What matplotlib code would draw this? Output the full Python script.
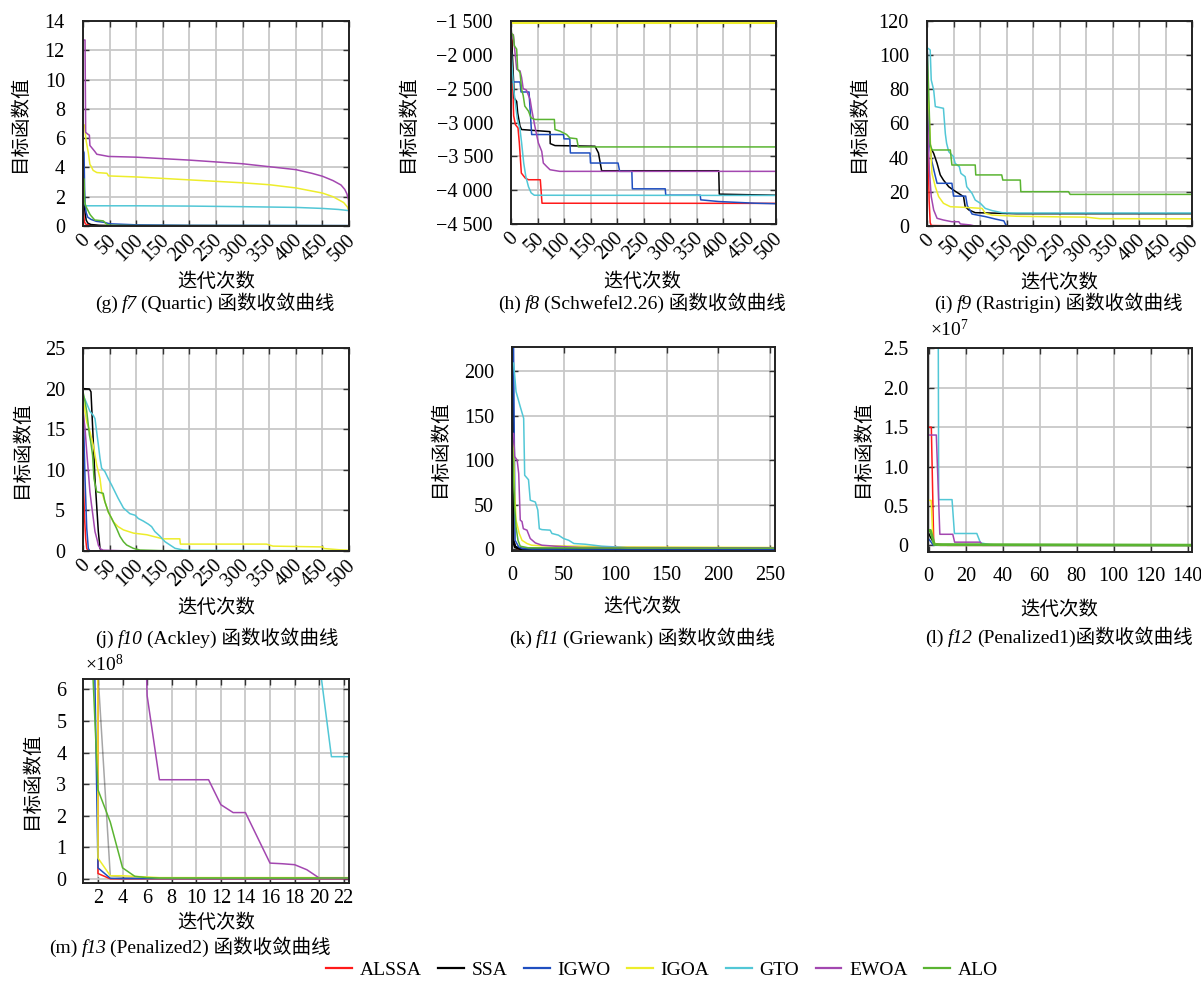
import matplotlib
matplotlib.use('Agg')
import matplotlib.pyplot as plt
import matplotlib.transforms as mtransforms
from matplotlib.ticker import FuncFormatter
from matplotlib.lines import Line2D
from matplotlib.offsetbox import TextArea, HPacker, AnnotationBbox

FAM = ['Liberation Serif', 'Noto Sans CJK SC']
plt.rcParams['font.family'] = FAM
plt.rcParams['mathtext.fontset'] = 'custom'
plt.rcParams['mathtext.it'] = 'Liberation Serif:italic'
plt.rcParams['mathtext.rm'] = 'Liberation Serif'
plt.rcParams['axes.unicode_minus'] = True

# ---------------- series names / colours ----------------
ALGOS = ['ALSSA', 'SSA', 'IGWO', 'IGOA', 'GTO', 'EWOA', 'ALO']
COLORS = ['#FF1A1A', '#000000', '#1F4FC0', '#EDED2B', '#52C7D6', '#A347B0', '#5AB431']

# ---------------- (g) f7 Quartic ----------------
G_ALSSA_X = [0, 1, 2, 3, 6, 15, 30, 500]
G_ALSSA_Y = [1.7, 1.2, 0.5, 0.25, 0.1, 0.05, 0.02, 0.0]
G_SSA_X = [0, 2, 4, 6, 9, 15, 30, 60, 500]
G_SSA_Y = [2.0, 1.6, 0.9, 0.4, 0.2, 0.1, 0.05, 0.02, 0.01]
G_IGWO_X = [0, 2, 3, 4, 6, 9, 15, 25, 40, 50, 100, 200, 500]
G_IGWO_Y = [5.2, 5.0, 2.5, 1.5, 0.9, 0.6, 0.45, 0.32, 0.25, 0.15, 0.08, 0.05, 0.03]
G_IGOA_X = [0, 3, 5, 6, 10, 13, 15, 19, 26, 45, 48, 100, 200, 300, 350, 400, 450, 470, 490, 497, 500]
G_IGOA_Y = [6.9, 6.9, 6.1, 5.8, 5.0, 4.2, 4.1, 3.8, 3.65, 3.6, 3.42, 3.35, 3.15, 2.95, 2.82, 2.6, 2.25, 2.0, 1.6, 1.3, 1.0]
G_GTO_X = [0, 3, 5, 100, 200, 300, 400, 450, 480, 500]
G_GTO_Y = [2.2, 1.6, 1.38, 1.38, 1.36, 1.32, 1.27, 1.2, 1.13, 1.05]
G_EWOA_X = [0, 3.8, 5, 8, 12, 13, 22, 26, 48, 100, 200, 300, 350, 400, 430, 450, 470, 485, 492, 496, 499, 500]
G_EWOA_Y = [12.7, 12.7, 6.4, 6.3, 6.2, 5.5, 5.1, 4.9, 4.75, 4.7, 4.5, 4.25, 4.05, 3.85, 3.6, 3.4, 3.1, 2.8, 2.5, 2.2, 1.8, 0.0]
G_ALO_X = [0, 2, 3, 5, 13, 15, 22, 38, 45, 50, 100, 500]
G_ALO_Y = [3.3, 3.2, 1.7, 1.37, 0.8, 0.7, 0.41, 0.35, 0.11, 0.05, 0.03, 0.02]

# ---------------- (h) f8 Schwefel2.26 ----------------
H_ALSSA_X = [0, 1.9, 3.1, 5, 8.2, 13.2, 15.7, 19.5, 27, 33, 55.3, 58.5, 500]
H_ALSSA_Y = [-1690, -1700, -2400, -2900, -3030, -3080, -3300, -3747, -3822, -3846, -3846, -4193, -4195]
H_SSA_X = [0, 2.5, 6.3, 10.7, 12.6, 17, 20, 73.6, 74, 83, 158.5, 165, 171, 392, 393, 500]
H_SSA_Y = [-1520, -1990, -2640, -2690, -2860, -3054, -3104, -3135, -3312, -3341, -3351, -3450, -3713, -3713, -4059, -4075]
H_IGWO_X = [0, 17, 19, 34, 39, 99, 100, 111, 112, 149, 150, 202, 205, 228, 229, 291, 292, 357, 358, 392, 461, 500]
H_IGWO_Y = [-2401, -2401, -2549, -2549, -3178, -3178, -3242, -3242, -3450, -3450, -3599, -3599, -3722, -3722, -3980, -3980, -4074, -4074, -4143, -4168, -4193, -4200]
H_IGOA_X = [0, 500]
H_IGOA_Y = [-1512, -1512]
H_GTO_X = [0, 2, 5, 8, 12, 17, 20, 24, 28, 33, 38, 44, 500]
H_GTO_Y = [-1850, -2160, -2500, -2700, -2950, -3100, -3300, -3600, -3800, -3950, -4040, -4075, -4078]
H_EWOA_X = [0, 4.4, 7.5, 10.7, 17, 20, 23, 29, 36, 39, 45, 51.6, 58, 61, 67, 73.6, 92, 500]
H_EWOA_Y = [-1800, -1700, -1965, -2213, -2237, -2336, -2500, -2520, -2658, -2807, -3054, -3302, -3426, -3599, -3648, -3698, -3722, -3722]
H_ALO_X = [0, 4.4, 6.3, 10.7, 12.6, 17, 20, 23, 26, 33, 37.7, 45, 81.8, 83, 92.5, 105, 111, 124, 127, 500]
H_ALO_Y = [-1668, -1718, -1866, -1916, -2213, -2262, -2510, -2600, -2757, -2832, -2930, -2955, -2955, -3104, -3128, -3178, -3228, -3240, -3361, -3361]

# ---------------- (i) f9 Rastrigin ----------------
I_ALSSA_X = [0, 2, 4, 6, 8, 50, 500]
I_ALSSA_Y = [68, 45, 15, 2, 0.3, 0.1, 0]
I_SSA_X = [0, 3, 6, 12.6, 19, 25, 31, 41, 50, 60, 69, 72, 79, 91, 169, 500]
I_SSA_Y = [75, 55, 46.4, 42.5, 36.7, 29.9, 26.9, 23, 21, 19, 17.2, 11.3, 9.4, 7.8, 7.2, 7.2]
I_IGWO_X = [0, 1, 2, 4, 6, 9, 15, 19, 47, 50, 73, 76, 85, 110, 130, 145, 148, 151, 500]
I_IGWO_Y = [107, 100, 75, 55, 45, 38, 30, 25, 25, 17.5, 17.5, 12, 7, 5.5, 4, 3, 1, 0, 0]
I_IGOA_X = [0, 3, 8, 9.4, 15.7, 22, 31, 44, 72, 104, 110, 123, 169, 263, 300, 326, 500]
I_IGOA_Y = [80, 72, 38.6, 30.8, 23, 17.2, 13.3, 11.3, 10.9, 10.3, 7.4, 6.4, 5.7, 5.3, 5.2, 4.3, 4.2]
I_GTO_X = [0, 2, 6, 8, 12.6, 15.7, 31, 34.6, 37, 41, 50, 53, 61, 64, 72, 75, 85, 91, 100.6, 110, 123, 141.5, 160, 500]
I_GTO_Y = [104, 104, 103, 85.5, 79.6, 69.9, 68.9, 54, 48.4, 43.5, 40.6, 36.7, 34.7, 30.8, 28.9, 23, 19.1, 15.2, 13.3, 10.3, 9, 7.8, 7.6, 7.6]
I_EWOA_X = [0, 2, 4.4, 8, 12.6, 19, 31, 47, 60, 63, 82, 90, 500]
I_EWOA_Y = [73.8, 56, 32.8, 17.2, 9.4, 4.5, 3.5, 2.5, 2.5, 1.2, 0.6, 0, 0]
I_ALO_X = [0, 3, 6, 9.4, 44, 47, 91, 92, 141, 143, 176, 177, 267, 270, 500]
I_ALO_Y = [106, 81, 48, 44.5, 44.5, 35.7, 35.7, 29.9, 29.9, 26.9, 26.9, 20.1, 20.1, 18.5, 18.5]

# ---------------- (j) f10 Ackley ----------------
J_ALSSA_X = [0, 1, 3, 5, 7, 10, 500]
J_ALSSA_Y = [18, 8, 4, 1.5, 0.3, 0, 0]
J_SSA_X = [0, 12, 15, 18.2, 22.5, 28.8, 32, 35, 500]
J_SSA_Y = [20, 19.95, 19.6, 15.1, 8.9, 2.4, 0.3, 0, 0]
J_IGWO_X = [0, 3.8, 7, 10, 13, 500]
J_IGWO_Y = [18.8, 8.9, 2.8, 0.3, 0, 0]
J_IGOA_X = [0, 3.8, 7, 13, 19.4, 22.5, 25.7, 32, 35, 41, 47.6, 57, 66, 76, 95, 120, 150, 182, 183, 345, 357, 451, 453, 482, 500]
J_IGOA_Y = [18.8, 17.2, 15.9, 14.7, 13, 11.8, 10.6, 8.9, 7.3, 6.1, 4.8, 3.6, 3.0, 2.6, 2.2, 2.0, 1.5, 1.5, 0.85, 0.85, 0.6, 0.5, 0.3, 0.15, 0.1]
J_GTO_X = [0, 5.6, 13, 19.4, 22.5, 29, 32, 35, 41, 47.6, 54, 60, 66, 72.7, 76, 88, 98, 104, 113, 123, 129, 135, 145, 154, 163.5, 173, 188.6, 200, 500]
J_GTO_Y = [19.2, 18.4, 17.2, 16.7, 16.3, 13, 11.4, 10.2, 9.8, 8.9, 8.1, 7.3, 6.5, 5.7, 5.3, 4.6, 4.4, 4.0, 3.7, 3.3, 3.0, 2.4, 1.8, 1.15, 0.74, 0.33, 0.12, 0.08, 0.03]
J_EWOA_X = [0, 3.8, 7, 10, 13, 16, 19.4, 22.5, 25.7, 29, 33, 38, 70, 100, 500]
J_EWOA_Y = [17.2, 15.1, 12.2, 9.8, 7.3, 5.7, 4.0, 2.4, 1.6, 0.7, 0.25, 0.1, 0.04, 0, 0]
J_ALO_X = [0, 3.8, 7, 10, 12, 14.4, 18, 20.7, 25.7, 38, 41, 47.6, 54, 57, 63, 69.5, 76, 82, 94.6, 107, 150, 500]
J_ALO_Y = [19.6, 18.4, 17.2, 15.5, 14.3, 13.5, 11.8, 8.9, 7.3, 7.1, 6.1, 4.8, 4.0, 3.6, 2.8, 1.8, 1.15, 0.74, 0.33, 0.12, 0.04, 0.02]

# ---------------- (k) f11 Griewank ----------------
K_ALSSA_X = [0, 0.6, 1.6, 3.2, 6, 20, 255]
K_ALSSA_Y = [66.5, 66.5, 10, 2.6, 0.3, 0.1, 0.05]
K_SSA_X = [0, 1, 3, 8, 255]
K_SSA_Y = [400, 10, 2.6, 0.3, 0.1]
K_IGWO_X = [0, 1, 3, 6.5, 10, 20, 255]
K_IGWO_Y = [500, 300, 10, 2.6, 0.75, 0.2, 0.1]
K_IGOA_X = [0, 1.6, 2.3, 3.9, 7, 9.7, 14.5, 19, 29, 68, 97, 255]
K_IGOA_Y = [123, 110, 70, 32.7, 17.7, 10, 6.4, 4.5, 3.8, 3.4, 2.6, 1.9]
K_GTO_X = [0, 1.6, 3.9, 8, 11.3, 12.3, 16, 17.7, 22.6, 25, 26.5, 29, 37, 38.7, 45, 50, 55, 60, 71, 87, 100, 113, 255]
K_GTO_Y = [209, 209, 177, 160, 147, 83, 78, 55, 53, 44, 23, 22, 21.4, 17.7, 15.8, 12, 10, 6.4, 5.6, 3.4, 2.6, 1.5, 1.5]
K_EWOA_X = [0, 1.6, 2.6, 5, 6.5, 8, 9.7, 11, 14.5, 17.7, 22.6, 29, 42, 55, 68, 255]
K_EWOA_Y = [130, 130, 104, 100, 85, 32.7, 31, 23, 21.4, 12, 7.1, 4.5, 3.4, 2.6, 1.9, 1.5]
K_ALO_X = [0, 0.6, 2.6, 3.9, 5.8, 8, 16, 255]
K_ALO_Y = [115, 115, 47.7, 25, 10, 3.4, 1.5, 1.2]

# ---------------- (l) f12 Penalized1 ----------------
L_ALSSA_X = [0, 1.4, 2.7, 10, 142]
L_ALSSA_Y = [1.5e7, 1.5e7, 2e5, 0, 0]
L_SSA_X = [0, 1, 3, 6, 142]
L_SSA_Y = [1.5e6, 1e6, 2e5, 0, 0]
L_IGWO_X = [0, 1, 2.5, 142]
L_IGWO_Y = [8e5, 5e5, 0, 0]
L_IGOA_X = [0, 1.3, 2.3, 5, 142]
L_IGOA_Y = [5.7e6, 5.7e6, 4e5, 0, 0]
L_GTO_X = [0, 4.5, 5.4, 12.6, 13.9, 26, 28, 33, 40, 142]
L_GTO_Y = [8e7, 8e7, 5.8e6, 5.8e6, 1.5e6, 1.5e6, 3e5, 1e5, 0, 0]
L_EWOA_X = [0, 2.3, 4.1, 6, 13, 14, 28, 29, 142]
L_EWOA_Y = [1.4e7, 1.4e7, 1.4e7, 1.4e6, 1.4e6, 4e5, 4e5, 0, 0]
L_ALO_X = [0, 0.9, 2, 3, 142]
L_ALO_Y = [1.9e6, 1.9e6, 1e6, 1e5, 2e4]

# ---------------- (m) f13 Penalized2 ----------------
M_ITER = list(range(1, 24))
M_ALSSA = [5e10, 0.17e8] + [0.002e8] * 21
M_SSA = [5e10, 6.5e8, 0.1e8, 0.05e8] + [0.03e8] * 19
M_IGWO = [24e8, 0.35e8, 0.02e8] + [0.01e8] * 20
M_IGOA = [5e10, 0.66e8, 0.1e8, 0.1e8, 0.08e8, 0.06e8] + [0.04e8] * 17
M_GTO = [50e8, 45e8, 40e8, 36e8, 33e8, 30e8, 27e8, 25e8, 23e8, 21e8, 19e8, 17e8,
         15e8, 13e8, 12e8, 11e8, 10e8, 9e8, 8e8, 6.9e8, 3.87e8, 3.87e8, 3.87e8]
M_EWOA = [60e8, 50e8, 40e8, 30e8, 20e8, 5.8e8, 3.14e8, 3.14e8, 3.14e8, 3.14e8, 3.14e8, 2.35e8,
          2.1e8, 2.1e8, 1.3e8, 0.5e8, 0.48e8, 0.45e8, 0.29e8, 0.03e8, 0.03e8, 0.03e8, 0.03e8]
M_ALO = [11.6e8, 2.82e8, 1.8e8, 0.35e8, 0.08e8, 0.04e8] + [0.03e8] * 17

G_XTICKS = list(range(0, 501, 50))
G_YTICKS = list(range(0, 15, 2))
H_YTICKS = [-4500, -4000, -3500, -3000, -2500, -2000, -1500]
I_YTICKS = list(range(0, 121, 20))
J_YTICKS = list(range(0, 26, 5))
K_XTICKS = list(range(0, 251, 50))
K_YTICKS = list(range(0, 201, 50))
L_XTICKS = list(range(0, 141, 20))
L_YTICKS = [0, 0.5e7, 1.0e7, 1.5e7, 2.0e7, 2.5e7]
M_XTICKS = list(range(2, 23, 2))
M_YTICKS = [0, 1e8, 2e8, 3e8, 4e8, 5e8, 6e8]

W, H = 1201, 990
fig = plt.figure(figsize=(W / 100, H / 100), dpi=100)
FS = 14.5


def fx(x):
    return x / W


def fy(y):
    return 1 - y / H


def add_ax(l, t, r, b):
    return fig.add_axes([fx(l), fy(b), (r - l) / W, (b - t) / H])


def fmt_int(v, p):
    return '%d' % round(v)


def fmt_thousand(v, p):
    s = '%d' % round(abs(v))
    if len(s) > 3:
        s = s[:-3] + ' ' + s[-3:]
    return ('\u2212' if v < 0 else '') + s


def fmt_e7(v, p):
    if abs(v) < 1:
        return '0'
    return '%.1f' % (v / 1e7)


def fmt_e8(v, p):
    return '%d' % round(v / 1e8)


SHIFT = mtransforms.ScaledTranslation(-3 / 100, 0, fig.dpi_scale_trans)


def style(ax, xlim, ylim, xticks, yticks, xfmt, yfmt, rotate, xpad, ypad):
    ax.set_xlim(*xlim)
    ax.set_ylim(*ylim)
    ax.set_xticks(xticks)
    ax.set_yticks(yticks)
    ax.xaxis.set_major_formatter(FuncFormatter(xfmt))
    ax.yaxis.set_major_formatter(FuncFormatter(yfmt))
    ax.grid(True, color='#c8c8c8', linewidth=1.3)
    ax.set_axisbelow(True)
    ax.tick_params(direction='in', top=True, right=True, length=4, width=1.0,
                   labelsize=FS, color='#333333')
    ax.tick_params(axis='x', pad=xpad)
    ax.tick_params(axis='y', pad=ypad)
    for s in ax.spines.values():
        s.set_linewidth(1.4)
        s.set_color('#222222')
    if rotate:
        for lab in ax.get_xticklabels():
            lab.set_rotation(45)
            lab.set_ha('right')
            lab.set_va('top')
            lab.set_rotation_mode('anchor')
            lab.set_transform(lab.get_transform() + SHIFT)


def draw(ax, xs, ys, lw=1.1):
    for x, y, c in zip(xs, ys, COLORS):
        ax.plot(x, y, color=c, linewidth=lw)


def caption(x, y, pre, ital, post):
    parts = [TextArea(pre, textprops=dict(fontsize=14, family=FAM)),
             TextArea(ital, textprops=dict(fontsize=14, family='Liberation Serif', style='italic')),
             TextArea(post, textprops=dict(fontsize=14, family=FAM))]
    box = HPacker(children=parts, align='baseline', pad=0, sep=3.0)
    ab = AnnotationBbox(box, (fx(x), fy(y)), xycoords='figure fraction', frameon=False,
                        box_alignment=(0.5, 0.5), pad=0)
    fig.add_artist(ab)


def labels(ylab_xy, xlab_xy, cap_xy, cap):
    fig.text(fx(ylab_xy[0]), fy(ylab_xy[1]), '目标函数值', rotation=90,
             ha='center', va='center', fontsize=14)
    fig.text(fx(xlab_xy[0]), fy(xlab_xy[1]), '迭代次数', ha='center', va='center', fontsize=14)
    caption(cap_xy[0], cap_xy[1], *cap)


# (g)
ax = add_ax(83, 21, 349, 226)
draw(ax, [G_ALSSA_X, G_SSA_X, G_IGWO_X, G_IGOA_X, G_GTO_X, G_EWOA_X, G_ALO_X],
     [G_ALSSA_Y, G_SSA_Y, G_IGWO_Y, G_IGOA_Y, G_GTO_Y, G_EWOA_Y, G_ALO_Y])
style(ax, (0, 500), (0, 14), G_XTICKS, G_YTICKS, fmt_int, fmt_int, True, 3.5, 13)
labels((20, 123), (216, 282), (215, 303), ('(g)', 'f7', '(Quartic) 函数收敛曲线'))

# (h)
ax = add_ax(511, 21, 776, 224)
draw(ax, [H_ALSSA_X, H_SSA_X, H_IGWO_X, H_IGOA_X, H_GTO_X, H_EWOA_X, H_ALO_X],
     [H_ALSSA_Y, H_SSA_Y, H_IGWO_Y, H_IGOA_Y, H_GTO_Y, H_EWOA_Y, H_ALO_Y])
ax.lines[3].set_linewidth(2.2)
style(ax, (0, 500), (-4500, -1500), G_XTICKS, H_YTICKS, fmt_int, fmt_thousand, True, 3.5, 13)
labels((408, 123), (642, 282), (642, 303), ('(h)', 'f8', '(Schwefel2.26) 函数收敛曲线'))

# (i)
ax = add_ax(927, 21, 1192, 226)
draw(ax, [I_ALSSA_X, I_SSA_X, I_IGWO_X, I_IGOA_X, I_GTO_X, I_EWOA_X, I_ALO_X],
     [I_ALSSA_Y, I_SSA_Y, I_IGWO_Y, I_IGOA_Y, I_GTO_Y, I_EWOA_Y, I_ALO_Y])
style(ax, (0, 500), (0, 120), G_XTICKS, I_YTICKS, fmt_int, fmt_int, True, 3.5, 13)
labels((859, 123), (1059, 283), (1058, 303), ('(i)', 'f9', '(Rastrigin) 函数收敛曲线'))

# (j)
ax = add_ax(83, 348, 349, 551)
draw(ax, [J_ALSSA_X, J_SSA_X, J_IGWO_X, J_IGOA_X, J_GTO_X, J_EWOA_X, J_ALO_X],
     [J_ALSSA_Y, J_SSA_Y, J_IGWO_Y, J_IGOA_Y, J_GTO_Y, J_EWOA_Y, J_ALO_Y])
style(ax, (0, 500), (0, 25), G_XTICKS, J_YTICKS, fmt_int, fmt_int, True, 3.5, 13)
labels((22, 449), (216, 608), (217, 638), ('(j)', 'f10', '(Ackley) 函数收敛曲线'))

# (k)
ax = add_ax(512, 347, 775, 551)
draw(ax, [K_ALSSA_X, K_SSA_X, K_IGWO_X, K_IGOA_X, K_GTO_X, K_EWOA_X, K_ALO_X],
     [K_ALSSA_Y, K_SSA_Y, K_IGWO_Y, K_IGOA_Y, K_GTO_Y, K_EWOA_Y, K_ALO_Y])
ax.lines[1].set_linewidth(2.0)
style(ax, (0, 255), (-2, 227), K_XTICKS, K_YTICKS, fmt_int, fmt_int, False, 11, 13)
labels((440, 448), (642, 607), (642, 638), ('(k)', 'f11', '(Griewank) 函数收敛曲线'))

# (l)
ax = add_ax(928, 348, 1192, 552)
draw(ax, [L_ALSSA_X, L_SSA_X, L_IGWO_X, L_IGOA_X, L_GTO_X, L_EWOA_X, L_ALO_X],
     [L_ALSSA_Y, L_SSA_Y, L_IGWO_Y, L_IGOA_Y, L_GTO_Y, L_EWOA_Y, L_ALO_Y])
ax.lines[6].set_linewidth(2.0)
style(ax, (-0.4, 142.4), (-0.085e7, 2.505e7), L_XTICKS, L_YTICKS, fmt_int, fmt_e7, False, 11, 14)
labels((863, 448), (1059, 610), (1059, 637), ('(l)', 'f12', '(Penalized1)函数收敛曲线'))
fig.text(fx(930), fy(330), '×10$^{7}$', ha='left', va='center', fontsize=14)

# (m)
ax = add_ax(83, 679, 349, 883)
draw(ax, [M_ITER] * 7, [M_ALSSA, M_SSA, M_IGWO, M_IGOA, M_GTO, M_EWOA, M_ALO])
ax.lines[1].set_alpha(0.35)
style(ax, (0.78, 22.43), (-0.13e8, 6.33e8), M_XTICKS, M_YTICKS, fmt_int, fmt_e8, False, 4, 12)
labels((32, 780), (216, 923), (190, 947), ('(m)', 'f13', '(Penalized2) 函数收敛曲线'))
fig.text(fx(85), fy(665), '×10$^{8}$', ha='left', va='center', fontsize=14)

# legend
handles = [Line2D([0], [0], color=c, linewidth=1.6) for c in COLORS]
fig.legend(handles, ALGOS, loc='center', bbox_to_anchor=(fx(662), fy(970)), ncol=7,
           frameon=False, fontsize=14, handlelength=1.3, handletextpad=0.4,
           columnspacing=0.87, borderaxespad=0, borderpad=0)

fig.savefig('out.png', dpi=100)
